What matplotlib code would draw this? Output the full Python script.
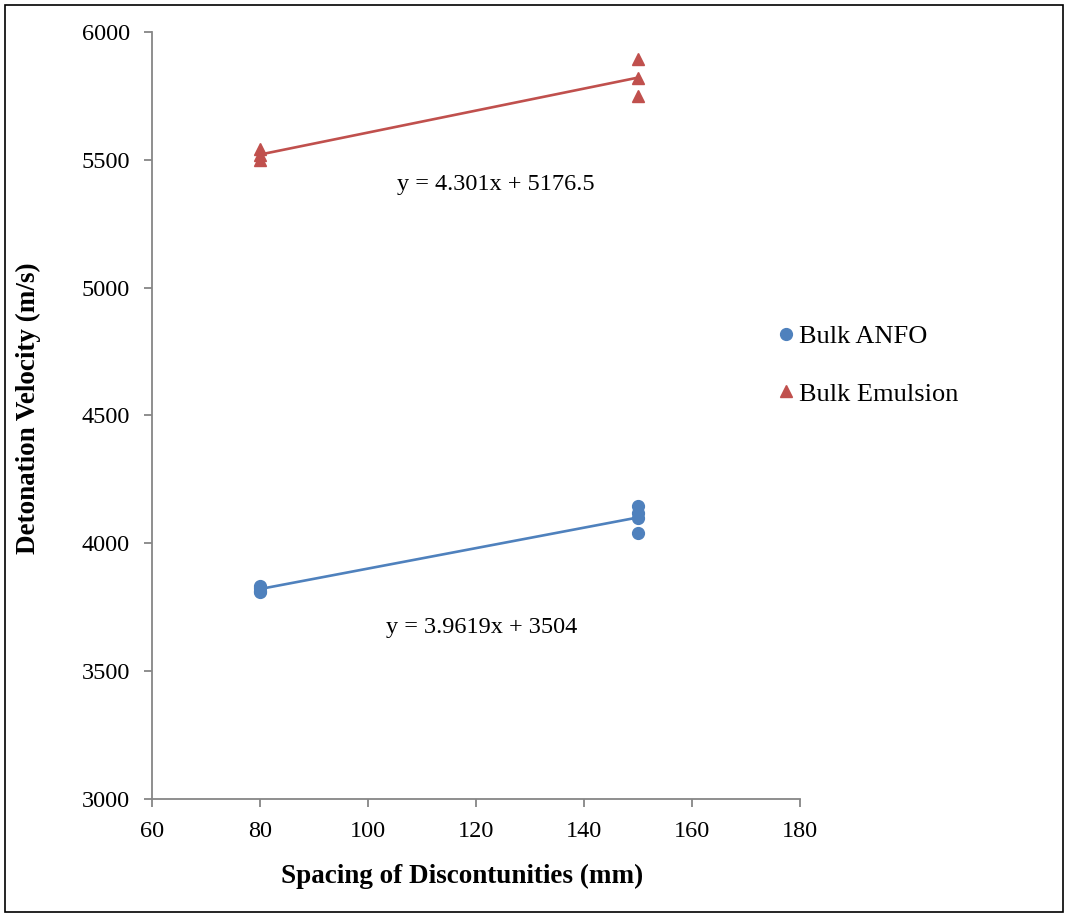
import numpy as np
from matplotlib import pyplot as plt
from matplotlib.patches import Rectangle

plt.rcParams['font.family'] = ['Liberation Serif', 'DejaVu Serif']

# data
anfo_x = [80, 80, 80, 80, 150, 150, 150, 150]
anfo_y = [3835, 3825, 3815, 3810, 4145, 4120, 4100, 4040]
emul_x = [80, 80, 80, 150, 150, 150]
emul_y = [5542, 5520, 5500, 5895, 5820, 5750]

anfo_eq = "y = 3.9619x + 3504"
emul_eq = "y = 4.301x + 5176.5"

blue = "#4F81BD"
red = "#C0504D"
axis_grey = "#868686"
FS = 17.5
LABEL_FS = 19.5

fig = plt.figure(figsize=(10.69, 9.17), dpi=100)
ax = fig.add_axes([0.1422, 0.1287, 0.6062, 0.8364])

ax.plot(anfo_x, anfo_y, "o", color=blue, markersize=8.5, label="Bulk ANFO", zorder=3)
ax.plot(emul_x, emul_y, "^", color=red, markersize=8.5, label="Bulk Emulsion", zorder=3)

# linear trend lines
for xs, ys, col in [(anfo_x, anfo_y, blue), (emul_x, emul_y, red)]:
    k, b = np.polyfit(xs, ys, 1)
    xx = np.array([min(xs), max(xs)])
    ax.plot(xx, k * xx + b, color=col, linewidth=1.9, zorder=2)

ax.text(105.3, 5402, emul_eq, fontsize=FS, va="center")
ax.text(103.4, 3669, anfo_eq, fontsize=FS, va="center")

ax.set_xlim(60, 180)
ax.set_ylim(3000, 6000)
ax.set_xticks(range(60, 181, 20))
ax.set_yticks(range(3000, 6001, 500))

for side in ["top", "right"]:
    ax.spines[side].set_visible(False)
for side in ["left", "bottom"]:
    ax.spines[side].set_color(axis_grey)
    ax.spines[side].set_linewidth(1.3)
ax.tick_params(axis="both", direction="out", length=6, width=1.3, color=axis_grey,
               labelsize=FS, pad=10)

fig.text(462 / 1069, 1 - 876 / 917, "Spacing of Discontunities (mm)", fontsize=LABEL_FS,
         fontweight="bold", ha="center", va="center")
fig.text(28 / 1069, 1 - 408 / 917, "Detonation Velocity (m/s)", fontsize=LABEL_FS,
         fontweight="bold", ha="center", va="center", rotation=90)

ax.legend(loc="center left", bbox_to_anchor=(775 / 1069, 1 - 365 / 917),
          bbox_transform=fig.transFigure, frameon=False, fontsize=19,
          borderpad=0, borderaxespad=0, handletextpad=0.1, handlelength=0.8,
          labelspacing=1.3)

fig.patches.append(Rectangle((5 / 1069, 5 / 917), 1058 / 1069, 907 / 917,
                             transform=fig.transFigure, fill=False,
                             edgecolor="black", linewidth=1.2))

fig.savefig("out.png", dpi=100)
